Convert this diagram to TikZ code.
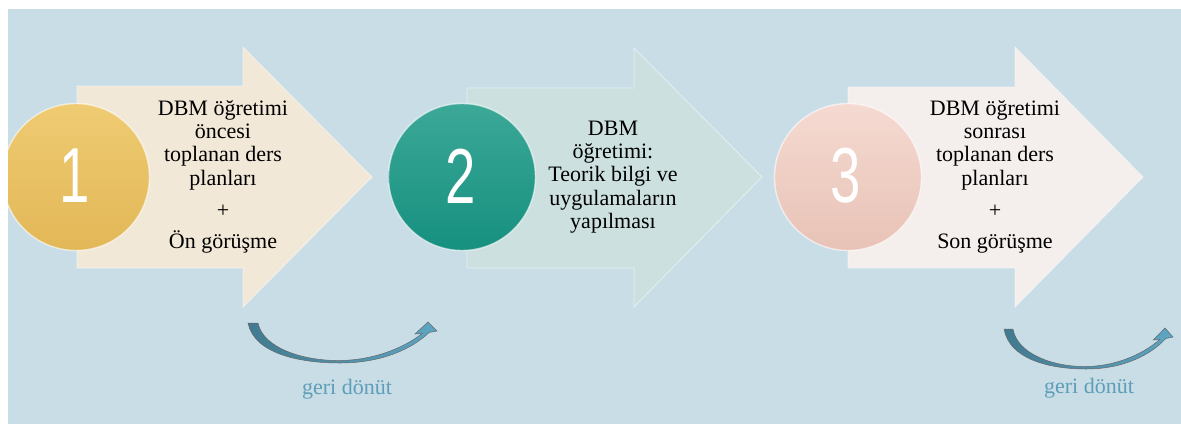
\documentclass[tikz,border=0pt]{standalone}
\usepackage{fontspec}
\setmainfont{Liberation Serif}
\newfontfamily\bodyserif{Liberation Serif}
\newfontfamily\numfont{Liberation Sans}
\definecolor{bgc}{HTML}{C9DDE6}
\definecolor{arA}{HTML}{F2E8D8}
\definecolor{arB}{HTML}{CDE0E0}
\definecolor{arC}{HTML}{F4EEEC}
\definecolor{cAt}{HTML}{EFCB72}
\definecolor{cAb}{HTML}{E2B757}
\definecolor{cBt}{HTML}{3CA898}
\definecolor{cBb}{HTML}{16907F}
\definecolor{cCt}{HTML}{F5DAD1}
\definecolor{cCb}{HTML}{E8C2B6}
\definecolor{fbL}{HTML}{417A90}
\definecolor{fbR}{HTML}{5DA6C3}
\definecolor{fbtxt}{HTML}{5E9EB8}
\tikzset{
  bodytxt/.style={align=center, text=black, inner sep=0pt, font=\bodyserif\fontsize{22}{23.3}\selectfont},
  numtxt/.style={text=white, inner sep=0pt, font=\numfont\fontsize{78}{78}\selectfont},
  fbtext/.style={text=fbtxt, inner sep=0pt, font=\bodyserif\fontsize{22}{24}\selectfont},
  chevron/.style={draw=white, draw opacity=0.5, line width=0.8pt},
  disc/.style={draw=white, draw opacity=0.6, line width=1.4pt},
  fbarrow/.style={left color=fbL, right color=fbR, draw=gray!80!black, line width=0.5pt}
}
\begin{document}
\begin{tikzpicture}[x=1pt,y=-1pt]
\useasboundingbox (0,0) rectangle (1181,424);
\fill[white] (0,0) rectangle (1181,424);
\fill[bgc] (8,9) rectangle (1181,424);

% chevrons
\path[chevron, fill=arA] (77,86) -- (243,86) -- (243,47) -- (372,177) -- (243,307) -- (243,268) -- (77,268) -- cycle;
\path[chevron, fill=arB] (467,88) -- (634,88) -- (634,48) -- (762,177) -- (634,307) -- (634,268) -- (467,268) -- cycle;
\path[chevron, fill=arC] (848,87) -- (1015,87) -- (1015,47) -- (1143,177) -- (1015,307) -- (1015,268) -- (848,268) -- cycle;

% discs
\begin{scope}
\clip (8,9) rectangle (1181,424);
\path[disc, top color=cAt, bottom color=cAb] (76,177) circle (73.5);
\end{scope}
\path[disc, top color=cBt, bottom color=cBb] (462,177) circle (73.5);
\path[disc, top color=cCt, bottom color=cCb] (848,177) circle (73.5);

\node[numtxt] (n1) at (75,176) {\scalebox{0.7}[1]{1}};
\node[numtxt] (n2) at (461,176) {\scalebox{0.7}[1]{2}};
\node[numtxt] (n3) at (846,176) {\scalebox{0.7}[1]{3}};

\node[bodytxt] (t1) at (223,177) {DBM öğretimi\\öncesi\\toplanan ders\\planları\\[9pt]+\\[8pt]Ön görüşme};
\node[bodytxt] (t2) at (613,177) {DBM\\öğretimi:\\Teorik bilgi ve\\uygulamaların\\yapılması};
\node[bodytxt] (t3) at (995,177) {DBM öğretimi\\sonrası\\toplanan ders\\planları\\[9pt]+\\[8pt]Son görüşme};

% feedback arrows
\path[fbarrow] (248,323) .. controls (254,353) and (298,363) .. (340,363)
  .. controls (383,363) and (413,348) .. (429,332.5) -- (437,331) -- (428,322) -- (415,334) -- (422,333.5)
  .. controls (408,345) and (378,360) .. (340,360.5)
  .. controls (303,361) and (263,348) .. (258,323) -- cycle;
\path[fbarrow] (1004,329) .. controls (1009.4,359) and (1048.7,369) .. (1086.3,369)
  .. controls (1124.7,369) and (1151.5,354) .. (1165.8,338.5) -- (1173,337) -- (1165,328) -- (1153.3,340) -- (1159.6,339.5)
  .. controls (1147,351) and (1120.2,366) .. (1086.3,366.5)
  .. controls (1053.2,367) and (1017.4,354) .. (1012.9,329) -- cycle;
\node[fbtext] (f1) at (347,389) {geri dönüt};
\node[fbtext] (f2) at (1089,388) {geri dönüt};
\end{tikzpicture}
\end{document}
